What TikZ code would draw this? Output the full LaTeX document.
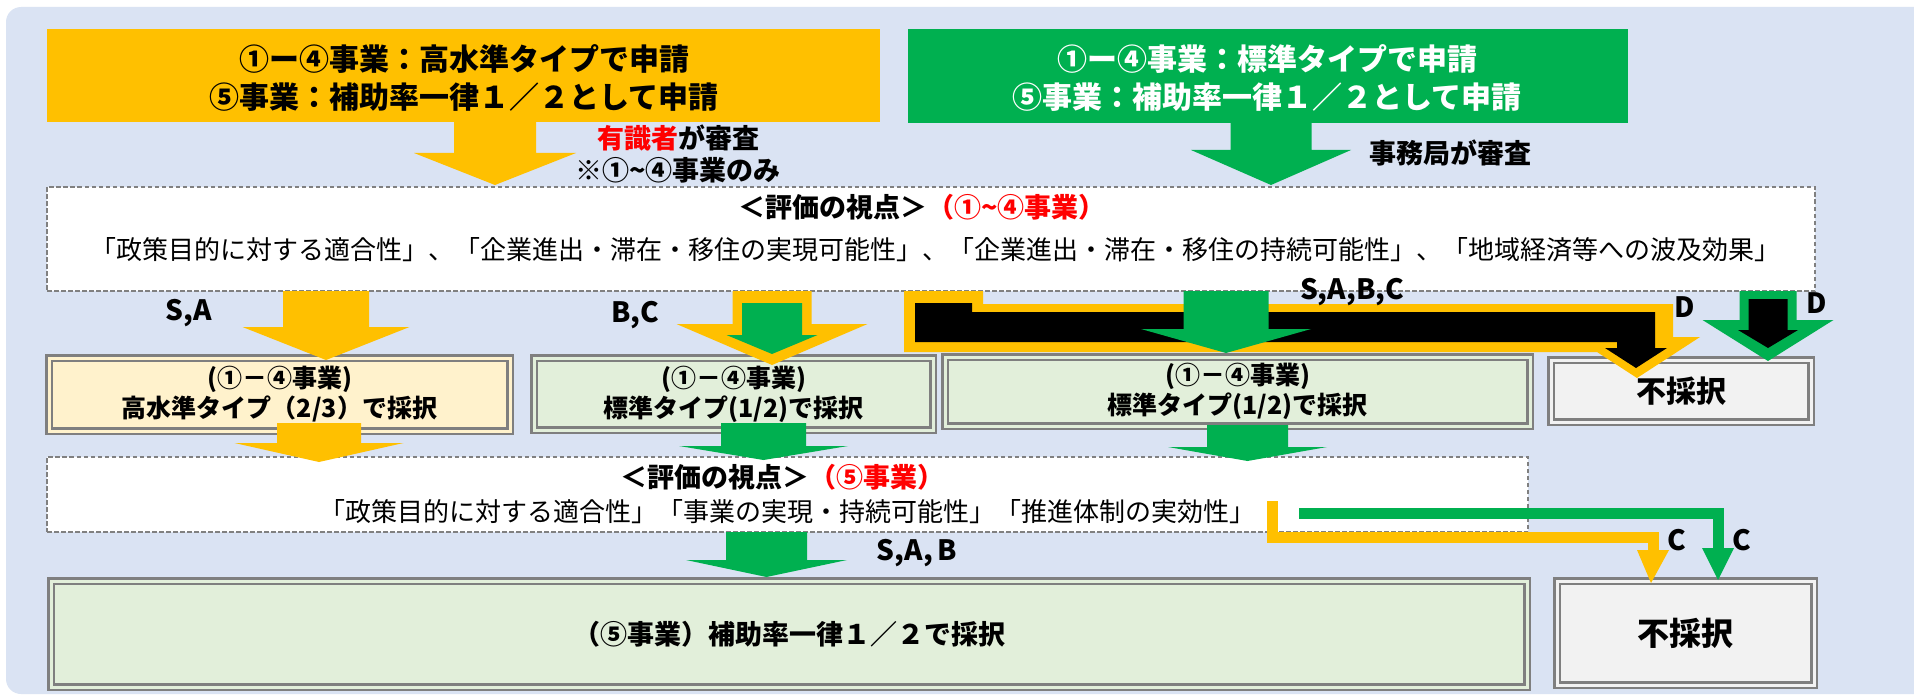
\documentclass[tikz,border=0pt]{standalone}
\usepackage{fontspec}
\setmainfont{Noto Sans CJK JP}
\definecolor{bgblue}{HTML}{DAE3F3}
\definecolor{orng}{HTML}{FFC000}
\definecolor{grn}{HTML}{00B050}
\definecolor{ylw}{HTML}{FFF2CC}
\definecolor{lgrn}{HTML}{E2EFDA}
\definecolor{lgry}{HTML}{F2F2F2}
\definecolor{bdg}{HTML}{7F7F7F}
\definecolor{dsh}{HTML}{808080}
\definecolor{redt}{HTML}{FF0000}
% block arrow: colour, centre x, top y, shaft half width, head base y, head half width, tip y
\newcommand{\dnblk}[7]{\fill[#1] ({#2-#4},#3) -- ({#2+#4},#3) -- ({#2+#4},#5) -- ({#2+#6},#5) -- (#2,#7) -- ({#2-#6},#5) -- ({#2-#4},#5) -- cycle;}
\begin{document}
\begin{tikzpicture}[x=1pt,y=-1pt,
  every node/.style={inner sep=0pt,outer sep=0pt},
  dbox/.style={draw=bdg,line width=2.5pt,double distance=3pt,align=center},
  dashbox/.style={draw=dsh,line width=1.8pt,dash pattern=on 4.5pt off 2.5pt,fill=white},
  bigt/.style={font=\fontsize{30}{36}\selectfont\bfseries},
  midt/.style={font=\fontsize{27}{32}\selectfont\bfseries},
  regt/.style={font=\fontsize{26}{32}\selectfont},
  boxt/.style={font=\fontsize{25}{30}\selectfont\bfseries},
  lbl/.style={font=\fontsize{28}{32}\selectfont\bfseries}]
\useasboundingbox (0,0) rectangle (1914,698);
\clip (0,0) rectangle (1914,698);
\fill[bgblue,rounded corners=15pt] (6,7) rectangle (1940,694);

% header boxes
\node[fill=orng,minimum width=833pt,minimum height=93pt] (hdrO) at (463.5,75.5) {};
\node[bigt] (hdrO1) at (464,59) {①ー④事業：高水準タイプで申請};
\node[bigt] (hdrO2) at (464,97) {⑤事業：補助率一律１／２として申請};
\node[fill=grn,minimum width=720pt,minimum height=94pt] (hdrG) at (1268,76) {};
\node[bigt,text=white] (hdrG1) at (1267,59) {①ー④事業：標準タイプで申請};
\node[bigt,text=white] (hdrG2) at (1267,97) {⑤事業：補助率一律１／２として申請};

\node[midt] (rev1) at (678,138) {\textcolor{redt}{有識者}が審査};
\node[midt] (rev2) at (678,170) {※①\textasciitilde ④事業のみ};
\node[midt] (rev3) at (1450,153) {事務局が審査};

\dnblk{orng}{495}{122}{41}{153}{81}{185}
\dnblk{grn}{1271}{123}{40.5}{150}{80}{185}

% evaluation box 1
\node[dashbox,minimum width=1768pt,minimum height=104pt] (ev1) at (931,239) {};
\node[midt] (ev1t) at (922,207) {＜評価の視点＞\textcolor{redt}{（①\textasciitilde ④事業）}};
\node[regt] (ev1l) at (935,250) {「政策目的に対する適合性」、「企業進出・滞在・移住の実現可能性」、「企業進出・滞在・移住の持続可能性」、「地域経済等への波及効果」};

% result boxes row
\node[dbox,fill=ylw,double=ylw,minimum width=461pt,minimum height=73pt,boxt] (bA) at (279.5,394.5) {(①－④事業)\\高水準タイプ（2/3）で採択};
\node[dbox,fill=lgrn,double=lgrn,minimum width=399pt,minimum height=72pt,boxt] (bB) at (733.5,394) {(①－④事業)\\標準タイプ(1/2)で採択};
\node[dbox,fill=lgrn,double=lgrn,minimum width=585pt,minimum height=69pt,boxt] (bC) at (1237.5,391.5) {(①－④事業)\\標準タイプ(1/2)で採択};
\node[dbox,fill=lgry,double=lgry,minimum width=260pt,minimum height=62pt,font=\fontsize{30}{34}\selectfont\bfseries] (bD) at (1681,391) {不採択};

% arrows from evaluation 1
\dnblk{orng}{326}{291}{43}{327}{83.5}{360}
\dnblk{orng}{772}{291}{39.5}{324}{95.5}{365}
\dnblk{grn}{772}{303}{30}{335}{45.5}{354}
\fill[orng] (904,291) -- (983,291) -- (983,304) -- (1673,304) -- (1673,337) -- (1700,337) -- (1637,378) -- (1597,352) -- (904,352) -- cycle;
\fill[black] (915,303) -- (972,303) -- (972,312) -- (1655,312) -- (1655,348) -- (1667,348) -- (1636,368) -- (1605,348) -- (1617,348) -- (1617,342) -- (915,342) -- cycle;
\dnblk{grn}{1226}{291}{42.5}{329}{85}{353}
\dnblk{grn}{1768}{291}{28.5}{320}{65.5}{361}
\dnblk{black}{1768}{299}{19.5}{330}{30}{348}

\node[lbl] (lSA) at (189,313) {S,A};
\node[lbl] (lBC) at (635,315) {B,C};
\node[lbl] (lSABC) at (1352,292) {S,A,B,C};
\node[lbl] (lD1) at (1685,307) {D};
\node[lbl] (lD2) at (1817,303) {D};

% evaluation box 2
\node[dashbox,minimum width=1481pt,minimum height=75pt] (ev2) at (787.5,494.5) {};
\node[midt] (ev2t) at (782,477) {＜評価の視点＞\textcolor{redt}{（⑤事業）}};
\node[regt] (ev2l) at (787,512) {「政策目的に対する適合性」「事業の実現・持続可能性」「推進体制の実効性」};

\dnblk{orng}{319}{423}{42}{443}{84.5}{462}
\dnblk{grn}{763.5}{423}{42.5}{446}{84.5}{460}
\dnblk{grn}{1247.5}{425}{40.5}{447}{79.5}{461}

% bottom boxes
\node[dbox,fill=lgrn,double=lgrn,minimum width=1476pt,minimum height=106pt,midt] (bE) at (789,634) {（⑤事業）補助率一律１／２で採択};
\node[dbox,fill=lgry,double=lgry,minimum width=257pt,minimum height=104pt,font=\fontsize{32}{36}\selectfont\bfseries] (bF) at (1685.5,633) {不採択};

\dnblk{grn}{766.5}{532}{40.5}{560}{80.5}{577}
\node[lbl] (lSAB) at (917,553) {S,A,\,B};

% C connectors
\coordinate (oS) at (1272,501);
\coordinate (gS) at (1299,513.5);
\coordinate (oE) at (1653,551);
\coordinate (gE) at (1718,549);
\draw[orng,line width=11pt] (oS) |- (1653,537.5) -- (oE);
\fill[orng] (1637,550) -- (1669,550) -- (1651,583) -- cycle;
\draw[grn,line width=11pt] (gS) -| (gE);
\fill[grn] (1702,548) -- (1734,548) -- (1718,580) -- cycle;
\node[lbl] (lC1) at (1677,540) {C};
\node[lbl] (lC2) at (1742,540) {C};
\end{tikzpicture}
\end{document}
